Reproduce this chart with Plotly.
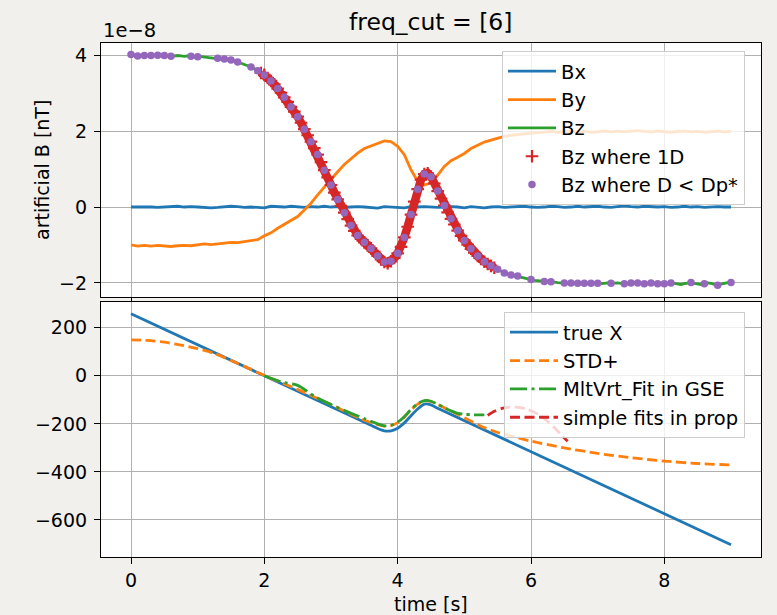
import numpy as np
import plotly.graph_objects as go

# ---------------- data (top panel, values in units of 1e-8 nT) ----------------
t_fine = np.round(np.arange(181) * 0.05, 2)      # sampling grid for Bz
t_coarse = np.round(np.arange(91) * 0.1, 1)      # sampling grid for Bx, By

bz = [
    4.02, 3.99, 3.98, 3.99, 3.99, 4.00, 3.99, 3.98, 4.00, 4.01, 3.99, 3.98, 3.97, 3.98, 3.99, 3.98, 3.97, 3.98, 3.97, 3.97,
    3.96, 3.96, 3.95, 3.95, 3.94, 3.93, 3.92, 3.91, 3.90, 3.89, 3.87, 3.85, 3.82, 3.79, 3.76, 3.73, 3.69, 3.64, 3.59, 3.53,
    3.48, 3.40, 3.32, 3.23, 3.12, 3.01, 2.89, 2.77, 2.64, 2.51, 2.38, 2.22, 2.05, 1.89, 1.72, 1.55, 1.38, 1.18, 0.97, 0.78,
    0.58, 0.38, 0.20, 0.03, -0.15, -0.32, -0.49, -0.63, -0.75, -0.84, -0.93, -1.01, -1.09, -1.18, -1.29, -1.38, -1.45, -1.48, -1.43, -1.34,
    -1.22, -1.05, -0.80, -0.52, -0.20, 0.14, 0.47, 0.72, 0.87, 0.89, 0.80, 0.62, 0.42, 0.22, 0.04, -0.14, -0.31, -0.46, -0.62, -0.76,
    -0.88, -0.99, -1.10, -1.20, -1.29, -1.37, -1.44, -1.50, -1.55, -1.60, -1.64, -1.70, -1.74, -1.77, -1.79, -1.80, -1.82, -1.85, -1.88, -1.90,
    -1.91, -1.93, -1.94, -1.96, -1.96, -1.97, -1.97, -1.98, -1.99, -2.00, -2.00, -2.01, -2.00, -2.01, -2.01, -2.00, -2.01, -2.02, -2.01, -2.00,
    -2.01, -2.02, -2.01, -2.00, -2.01, -2.00, -2.00, -2.01, -2.02, -2.01, -2.00, -1.99, -2.00, -2.01, -2.02, -2.01, -2.00, -2.01, -2.02, -2.03,
    -2.02, -2.01, -2.00, -2.01, -2.03, -2.04, -2.02, -2.00, -1.99, -2.01, -2.03, -2.04, -2.02, -2.00, -2.01, -2.04, -2.06, -2.03, -2.00, -1.99,
    -1.99,
]

by = [
    -1.00, -1.03, -1.01, -1.03, -1.01, -1.02, -1.04, -1.02, -1.01, -1.02,
    -0.99, -0.97, -0.99, -0.96, -0.95, -0.93, -0.94, -0.91, -0.88, -0.86,
    -0.76, -0.68, -0.56, -0.45, -0.36, -0.25, -0.08, 0.10, 0.32, 0.53,
    0.74, 0.93, 1.12, 1.28, 1.42, 1.54, 1.60, 1.66, 1.74, 1.72,
    1.60, 1.38, 0.98, 0.68, 0.58, 0.64, 0.84, 1.07, 1.22, 1.31,
    1.41, 1.54, 1.62, 1.71, 1.76, 1.82, 1.86, 1.89, 1.91, 1.93,
    1.94, 1.96, 1.97, 1.99, 1.97, 1.98, 2.00, 1.98, 1.99, 1.97,
    1.99, 2.00, 1.98, 2.00, 1.98, 1.99, 2.01, 1.99, 1.98, 2.00,
    1.99, 1.97, 1.99, 2.00, 1.98, 1.99, 1.97, 1.99, 2.00, 1.98,
    1.99,
]

bx = [
    0.00, 0.00, 0.01, 0.00, -0.01, 0.00, 0.01, 0.02, 0.00, 0.01,
    0.00, -0.01, -0.02, -0.01, 0.00, 0.02, 0.01, -0.01, 0.00, -0.01,
    -0.02, 0.02, 0.01, 0.00, 0.02, 0.00, -0.01, 0.01, 0.00, 0.02,
    0.00, 0.01, -0.01, 0.00, 0.01, 0.00, -0.01, -0.03, 0.01, 0.00,
    0.00, -0.02, 0.01, 0.00, 0.01, 0.00, -0.01, 0.00, 0.01, 0.00,
    -0.02, 0.01, 0.00, -0.02, 0.00, 0.01, -0.01, 0.00, 0.01, 0.02,
    0.00, -0.01, 0.00, 0.02, 0.01, -0.01, 0.00, 0.02, 0.00, 0.01,
    0.02, 0.00, -0.01, 0.01, 0.03, 0.01, 0.00, 0.02, 0.01, 0.00,
    0.01, -0.01, 0.00, 0.02, 0.00, 0.01, -0.01, 0.00, 0.01, 0.00,
    0.00,
]

# samples (0.1 s grid) where D < Dp*
purple_flags = [
    1, 1, 1, 1, 1, 1, 1, 0, 0, 1,
    1, 0, 0, 1, 1, 1, 1, 0, 1, 1,
    1, 1, 1, 1, 1, 1, 1, 1, 1, 1,
    1, 1, 1, 1, 1, 1, 1, 1, 1, 1,
    1, 1, 1, 1, 1, 1, 1, 1, 1, 1,
    1, 1, 1, 1, 1, 1, 1, 1, 1, 0,
    1, 0, 1, 1, 0, 1, 1, 1, 1, 1,
    1, 0, 1, 0, 1, 1, 1, 1, 1, 1,
    1, 1, 0, 0, 1, 0, 1, 0, 1, 0,
    1,
]
one_d_interval = (1.95, 5.45)

# ---------------- data (bottom panel) ----------------
truex_t = [0, 2, 3.6, 3.7, 3.8, 3.9, 4.0, 4.1, 4.2, 4.3, 4.4, 4.5, 4.6, 9.0]
truex_v = [258, 0, -206, -219, -229, -229, -218, -196, -166, -138, -118, -121, -135, -703]

std_t = [0, 0.25, 0.5, 0.75, 1.0, 1.25, 1.5, 1.75, 2.0, 2.5, 3.0, 3.5, 3.7, 3.8, 3.9, 4.0, 4.1, 4.2, 4.3, 4.4,
         4.5, 4.75, 5.0, 5.25, 5.5, 5.75, 6.0, 6.5, 7.0, 7.5, 8.0, 8.5, 9.0]
std_v = [149, 147, 140, 128, 113, 93, 64, 33, 1, -57, -120, -185, -203, -209, -207, -195, -172, -142, -118, -104,
         -107, -140, -175, -210, -236, -254, -272, -300, -323, -341, -355, -365, -371]

mvf_t = [2.0, 2.25, 2.5, 2.75, 3.0, 3.25, 3.5, 3.7, 3.8, 3.9, 4.0, 4.1, 4.2, 4.3, 4.4, 4.5, 4.6, 4.7, 4.8, 4.9,
         5.0, 5.1, 5.2, 5.3]
mvf_v = [0, -25, -40, -85, -120, -150, -178, -200, -208, -206, -193, -170, -140, -116, -103, -106, -118, -133, -146, -156,
         -160, -162, -163, -163]

simple_t = [5.35, 5.45, 5.55, 5.65, 5.75, 5.85, 5.95, 6.05, 6.15, 6.25, 6.35, 6.45, 6.55]
simple_v = [-165, -148, -137, -131, -130, -133, -140, -152, -168, -190, -215, -245, -272]

# ---------------- figure ----------------
C_BLUE, C_ORANGE, C_GREEN, C_RED, C_PURPLE = "#1f77b4", "#ff7f0e", "#2ca02c", "#d62728", "#9467bd"
LW = 2.8
FONT = "DejaVu Sans"

bz_arr = np.array(bz)
red_mask = (t_fine >= one_d_interval[0] - 1e-9) & (t_fine <= one_d_interval[1] + 1e-9)
pf = np.array(purple_flags, dtype=bool)
t_even = t_fine[::2]
bz_even = bz_arr[::2]

fig = go.Figure()
fig.add_trace(go.Scatter(x=t_coarse, y=bx, mode="lines", name="Bx", line=dict(color=C_BLUE, width=LW),
                         xaxis="x", yaxis="y", legend="legend", legendgroup="a"))
fig.add_trace(go.Scatter(x=t_coarse, y=by, mode="lines", name="By", line=dict(color=C_ORANGE, width=LW),
                         xaxis="x", yaxis="y", legend="legend", legendgroup="b"))
fig.add_trace(go.Scatter(x=t_fine, y=bz, mode="lines", name="Bz", line=dict(color=C_GREEN, width=LW),
                         xaxis="x", yaxis="y", legend="legend", legendgroup="c"))
# the dense "+" markers in the 1D interval merge into a thick band
fig.add_trace(go.Scatter(x=t_fine[red_mask], y=bz_arr[red_mask], mode="lines", showlegend=False,
                         line=dict(color=C_RED, width=8.5), hoverinfo="skip",
                         xaxis="x", yaxis="y", legend="legend", legendgroup="d"))
fig.add_trace(go.Scatter(x=t_fine[red_mask], y=bz_arr[red_mask], mode="markers", name="Bz where 1D",
                         marker=dict(symbol="cross-thin", size=9, color=C_RED, line=dict(color=C_RED, width=2.2)),
                         xaxis="x", yaxis="y", legend="legend", legendgroup="d"))
fig.add_trace(go.Scatter(x=t_even[pf], y=bz_even[pf], mode="markers", name="Bz where D < Dp*",
                         marker=dict(symbol="circle", size=7.5, color=C_PURPLE, line=dict(width=0)),
                         xaxis="x", yaxis="y", legend="legend", legendgroup="e"))

fig.add_trace(go.Scatter(x=truex_t, y=truex_v, mode="lines", name="true X", line=dict(color=C_BLUE, width=LW, shape="spline", smoothing=0.6),
                         xaxis="x2", yaxis="y2", legend="legend2", legendgroup="f"))
fig.add_trace(go.Scatter(x=std_t, y=std_v, mode="lines", name="STD+",
                         line=dict(color=C_ORANGE, width=LW, dash="10px,4.5px", shape="spline", smoothing=0.6),
                         xaxis="x2", yaxis="y2", legend="legend2", legendgroup="g"))
fig.add_trace(go.Scatter(x=mvf_t, y=mvf_v, mode="lines", name="MltVrt_Fit in GSE",
                         line=dict(color=C_GREEN, width=LW, dash="17px,4.5px,3px,4.5px", shape="spline", smoothing=0.6),
                         xaxis="x2", yaxis="y2", legend="legend2", legendgroup="h"))
fig.add_trace(go.Scatter(x=simple_t, y=simple_v, mode="lines", name="simple fits in prop",
                         line=dict(color=C_RED, width=LW, dash="10px,4.5px", shape="spline", smoothing=0.6),
                         xaxis="x2", yaxis="y2", legend="legend2", legendgroup="i"))

axis_common = dict(
    showline=True, linecolor="black", linewidth=1.2, mirror=True,
    ticks="outside", ticklen=6, tickwidth=1.2, tickcolor="black",
    showgrid=True, gridcolor="#b0b0b0", gridwidth=1.3, zeroline=False,
    tickfont=dict(family=FONT, size=19, color="black"),
)

L, R, T, B = 101, 16, 43, 58
W, H = 777, 615
PW, PH = W - L - R, H - T - B

def px_x(px):
    return (px - L) / PW

def px_y(py):
    return (H - B - py) / PH

legend_common = dict(
    bgcolor="rgba(255,255,255,0.8)", bordercolor="#cccccc", borderwidth=1,
    font=dict(family=FONT, size=19.5, color="black"),
    xanchor="right", yanchor="top", tracegroupgap=0, itemwidth=48,
)

fig.update_layout(
    width=W, height=H,
    margin=dict(l=L, r=R, t=T, b=B, pad=0),
    paper_bgcolor="#f1f0ec", plot_bgcolor="white",
    font=dict(family=FONT, size=19, color="black"),
    showlegend=True,
    xaxis=dict(domain=[0, 1], anchor="y", range=[-0.45, 9.45], dtick=2, tick0=0, showticklabels=False, **axis_common),
    yaxis=dict(domain=[px_y(297), 1], anchor="x", range=[-2.37, 4.32], dtick=2, tick0=0, ticklabelstandoff=3, **axis_common),
    xaxis2=dict(domain=[0, 1], anchor="y2", range=[-0.45, 9.45], dtick=2, tick0=0, matches="x", **axis_common),
    yaxis2=dict(domain=[0, px_y(302)], anchor="x2", range=[-754, 307], dtick=200, tick0=0, ticklabelstandoff=3, **axis_common),
    legend=dict(x=px_x(745), y=px_y(51), **legend_common),
    legend2=dict(x=px_x(745), y=px_y(312), **legend_common),
    annotations=[
        dict(text="freq_cut = [6]", x=0.5, y=px_y(22), xref="paper", yref="paper", showarrow=False,
             xanchor="center", yanchor="middle", font=dict(family=FONT, size=23.5, color="black")),
        dict(text="1e\u22128", x=px_x(101), y=px_y(30), xref="paper", yref="paper", showarrow=False,
             xanchor="left", yanchor="middle", font=dict(family=FONT, size=19.5, color="black")),
        dict(text="artificial B [nT]", x=px_x(42), y=px_y(170), xref="paper", yref="paper", showarrow=False,
             textangle=-90, xanchor="center", yanchor="middle", font=dict(family=FONT, size=19, color="black")),
        dict(text="time [s]", x=0.5, y=px_y(604), xref="paper", yref="paper", showarrow=False,
             xanchor="center", yanchor="middle", font=dict(family=FONT, size=19, color="black")),
    ],
)

fig.write_html("out.html", config={"displayModeBar": False})
